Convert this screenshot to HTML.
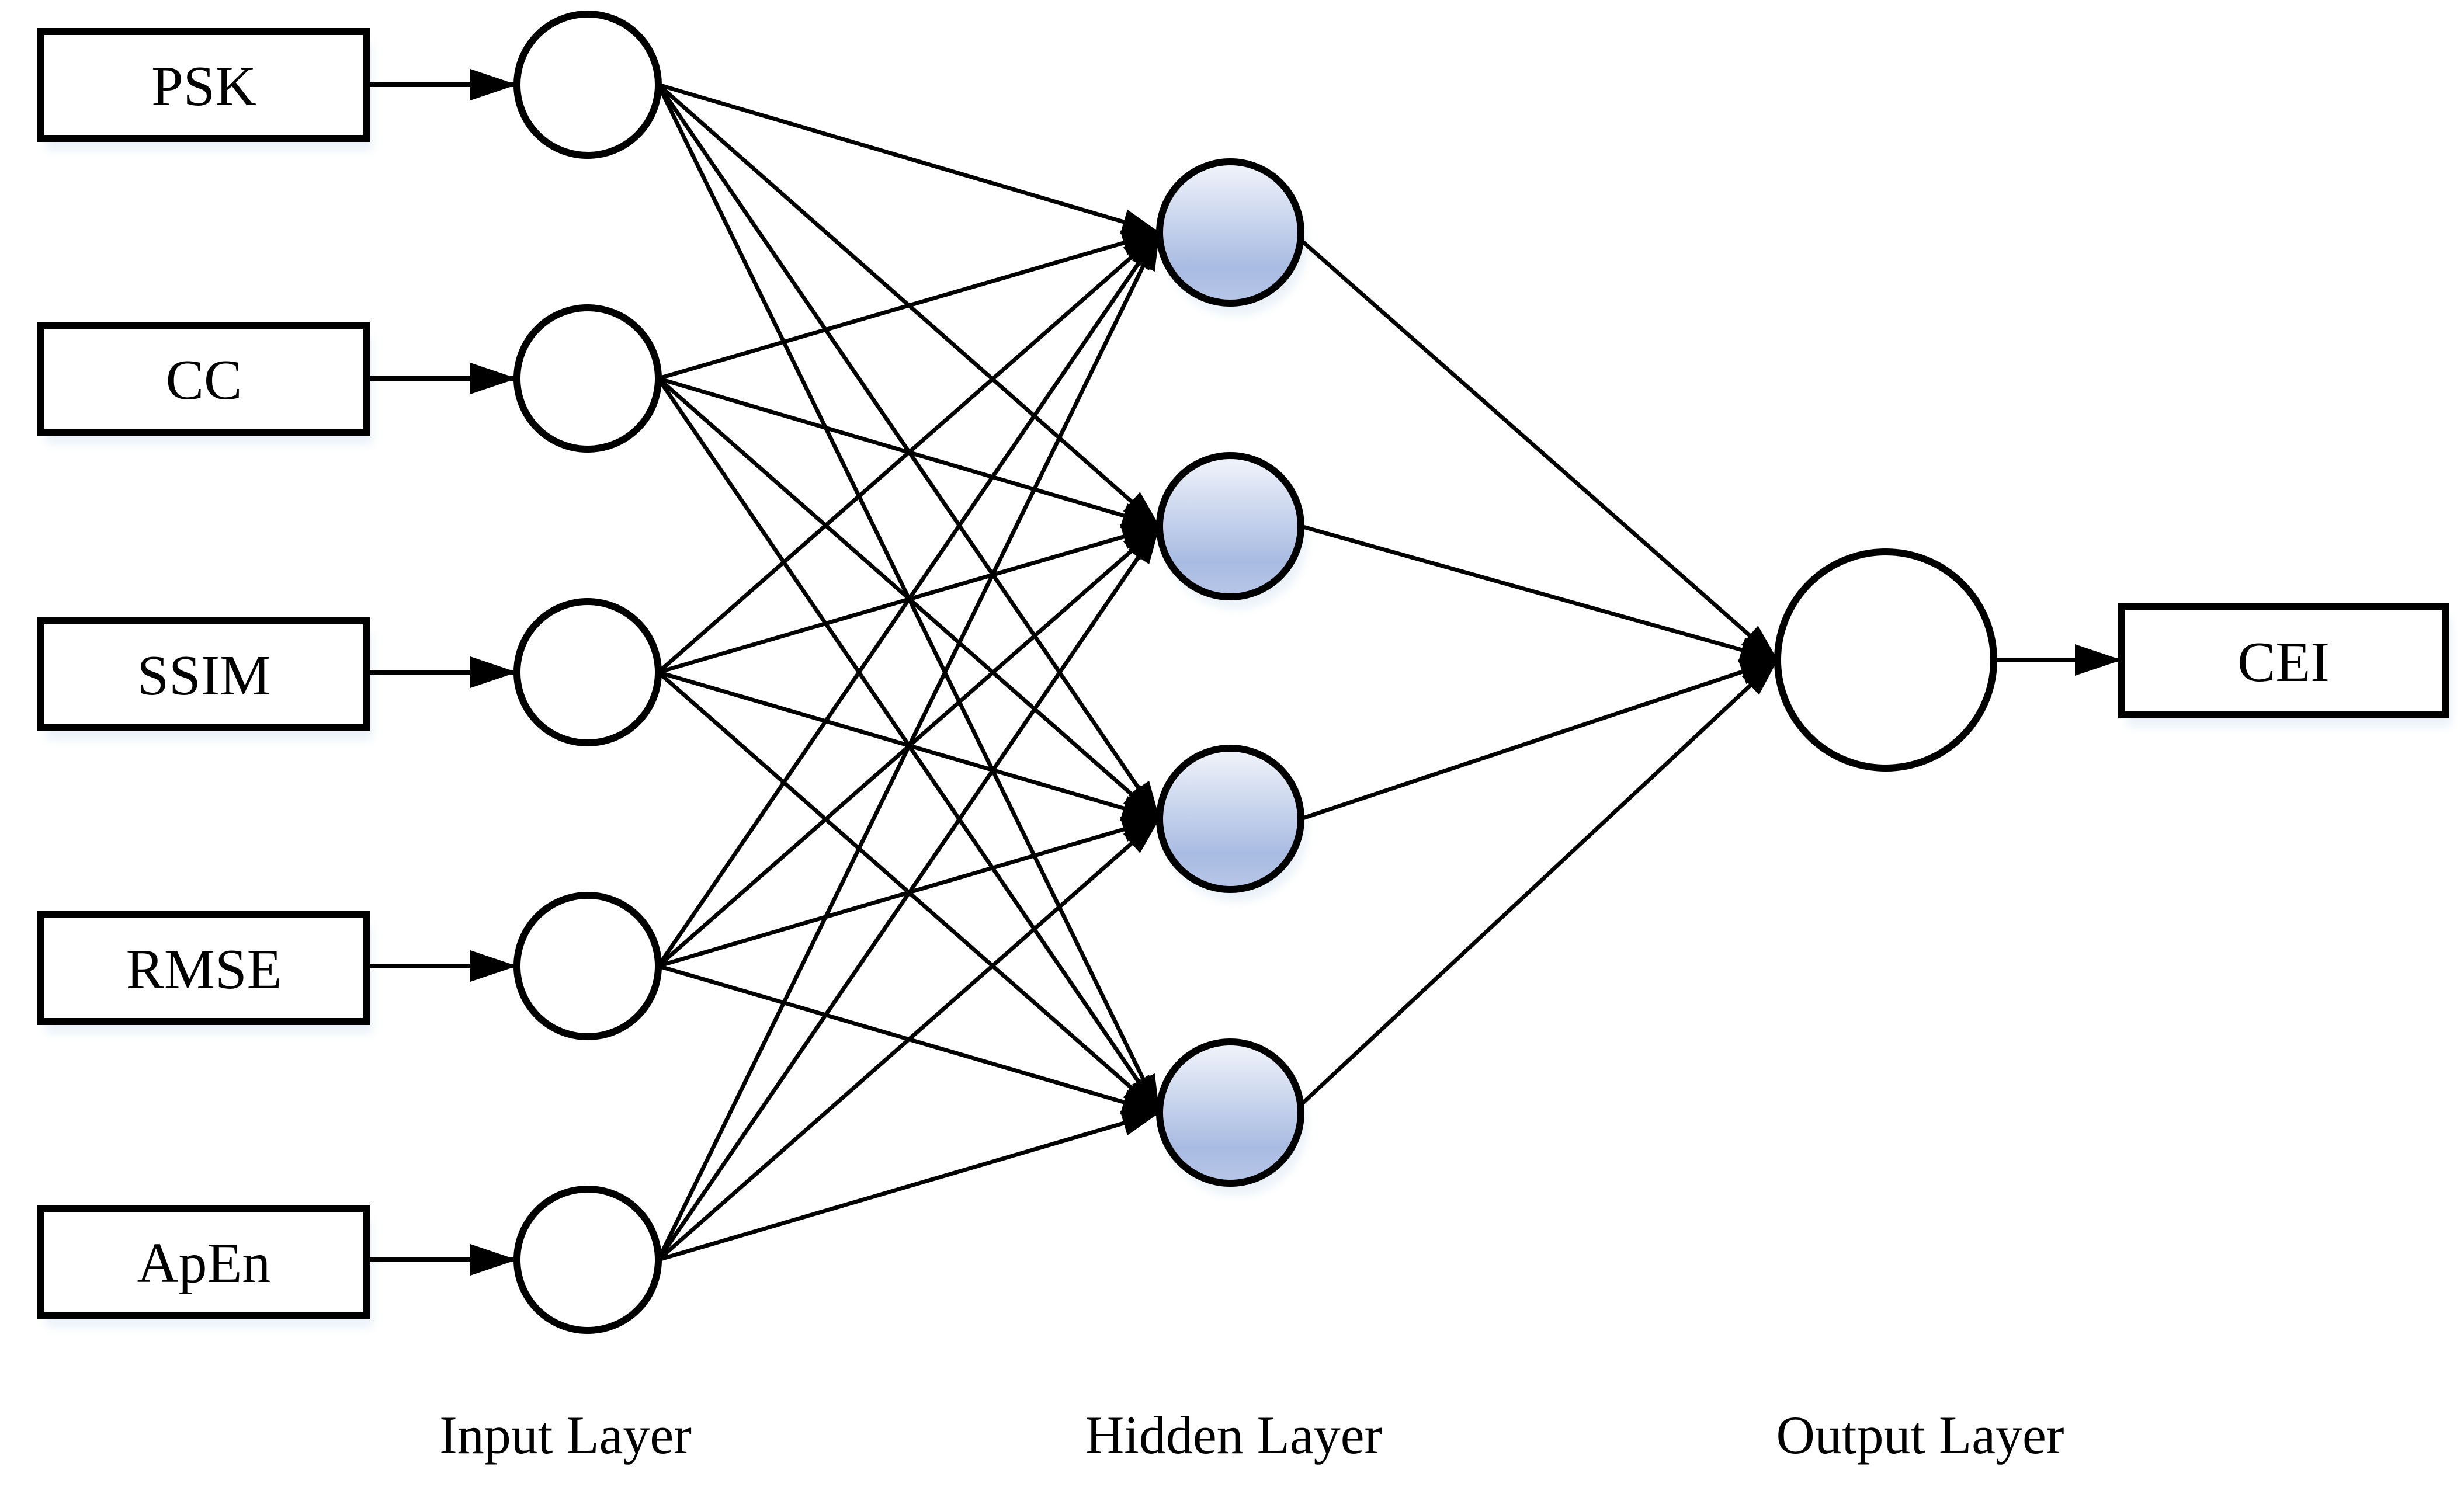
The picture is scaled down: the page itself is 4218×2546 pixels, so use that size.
<!DOCTYPE html>
<html><head><meta charset="utf-8"><style>
html,body{margin:0;padding:0;background:#fff;}
svg{display:block;}
text{font-family:"Liberation Serif",serif;fill:#000;}
</style></head><body>
<svg width="4218" height="2546" viewBox="0 0 4218 2546" xmlns="http://www.w3.org/2000/svg">
<defs>
<marker id="a" markerUnits="userSpaceOnUse" markerWidth="84" markerHeight="58" refX="80" refY="27" orient="auto">
<path d="M0,0 L80,27 L0,54 Z" fill="#000"/>
</marker>
<marker id="b" markerUnits="userSpaceOnUse" markerWidth="70" markerHeight="50" refX="64" refY="22" orient="auto">
<path d="M0,0 L64,22 L0,44 Z" fill="#000"/>
</marker>
<linearGradient id="g" x1="0" y1="0" x2="0" y2="1">
<stop offset="0" stop-color="#f2f5fb"/>
<stop offset="0.75" stop-color="#a8bbe2"/>
<stop offset="1" stop-color="#b8c7e8"/>
</linearGradient>
<filter id="s" x="-20%" y="-20%" width="140%" height="150%">
<feGaussianBlur stdDeviation="8"/>
</filter>
</defs>

<!-- shadows -->
<g fill="#dce8f4" opacity="0.6" filter="url(#s)">
<rect x="80" y="74" width="557" height="183"/>
<rect x="80" y="577" width="557" height="183"/>
<rect x="80" y="1083" width="557" height="183"/>
<rect x="80" y="1586" width="557" height="183"/>
<rect x="80" y="2089" width="557" height="183"/>
<rect x="3642" y="1058" width="554" height="186"/>
<circle cx="2116" cy="418" r="121"/><circle cx="2116" cy="921" r="121"/>
<circle cx="2116" cy="1422" r="121"/><circle cx="2116" cy="1925" r="121"/>
</g>

<!-- input boxes -->
<g fill="#fff" stroke="#000" stroke-width="12">
<rect x="70" y="54" width="557" height="183"/>
<rect x="70" y="557" width="557" height="183"/>
<rect x="70" y="1063" width="557" height="183"/>
<rect x="70" y="1566" width="557" height="183"/>
<rect x="70" y="2069" width="557" height="183"/>
<rect x="3632" y="1038" width="554" height="186"/>
</g>
<g font-size="98" text-anchor="middle">
<text x="349" y="180">PSK</text>
<text x="349" y="683">CC</text>
<text x="349" y="1189">SSIM</text>
<text x="349" y="1692">RMSE</text>
<text x="349" y="2195">ApEn</text>
<text x="3909" y="1166">CEI</text>
</g>

<!-- box to input arrows -->
<g stroke="#000" stroke-width="8" marker-end="url(#a)">
<line x1="627" y1="145" x2="885" y2="145"/>
<line x1="627" y1="648" x2="885" y2="648"/>
<line x1="627" y1="1151" x2="885" y2="1151"/>
<line x1="627" y1="1654" x2="885" y2="1654"/>
<line x1="627" y1="2157" x2="885" y2="2157"/>
<line x1="3413" y1="1130" x2="3632" y2="1130"/>
</g>

<!-- input -> hidden -->
<g stroke="#000" stroke-width="7" marker-end="url(#b)">
<line x1="1127" y1="145" x2="1985" y2="398"/><line x1="1127" y1="145" x2="1985" y2="901"/><line x1="1127" y1="145" x2="1985" y2="1402"/><line x1="1127" y1="145" x2="1985" y2="1905"/>
<line x1="1127" y1="648" x2="1985" y2="398"/><line x1="1127" y1="648" x2="1985" y2="901"/><line x1="1127" y1="648" x2="1985" y2="1402"/><line x1="1127" y1="648" x2="1985" y2="1905"/>
<line x1="1127" y1="1151" x2="1985" y2="398"/><line x1="1127" y1="1151" x2="1985" y2="901"/><line x1="1127" y1="1151" x2="1985" y2="1402"/><line x1="1127" y1="1151" x2="1985" y2="1905"/>
<line x1="1127" y1="1654" x2="1985" y2="398"/><line x1="1127" y1="1654" x2="1985" y2="901"/><line x1="1127" y1="1654" x2="1985" y2="1402"/><line x1="1127" y1="1654" x2="1985" y2="1905"/>
<line x1="1127" y1="2157" x2="1985" y2="398"/><line x1="1127" y1="2157" x2="1985" y2="901"/><line x1="1127" y1="2157" x2="1985" y2="1402"/><line x1="1127" y1="2157" x2="1985" y2="1905"/>
</g>
<!-- hidden -> output -->
<g stroke="#000" stroke-width="7" marker-end="url(#b)">
<line x1="2220" y1="405" x2="3043" y2="1130"/>
<line x1="2227" y1="901" x2="3043" y2="1130"/>
<line x1="2227" y1="1402" x2="3043" y2="1130"/>
<line x1="2220" y1="1898" x2="3043" y2="1130"/>
</g>

<!-- input circles -->
<g fill="#fff" stroke="#000" stroke-width="12">
<circle cx="1006" cy="145" r="121"/>
<circle cx="1006" cy="648" r="121"/>
<circle cx="1006" cy="1151" r="121"/>
<circle cx="1006" cy="1654" r="121"/>
<circle cx="1006" cy="2157" r="121"/>
<circle cx="3228" cy="1130" r="185"/>
</g>
<g fill="url(#g)" stroke="#000" stroke-width="12">
<circle cx="2106" cy="398" r="121"/>
<circle cx="2106" cy="901" r="121"/>
<circle cx="2106" cy="1402" r="121"/>
<circle cx="2106" cy="1905" r="121"/>
</g>

<g font-size="92" text-anchor="middle">
<text x="968" y="2488">Input Layer</text>
<text x="2112" y="2488">Hidden Layer</text>
<text x="3287" y="2488">Output Layer</text>
</g>
</svg>
</body></html>
